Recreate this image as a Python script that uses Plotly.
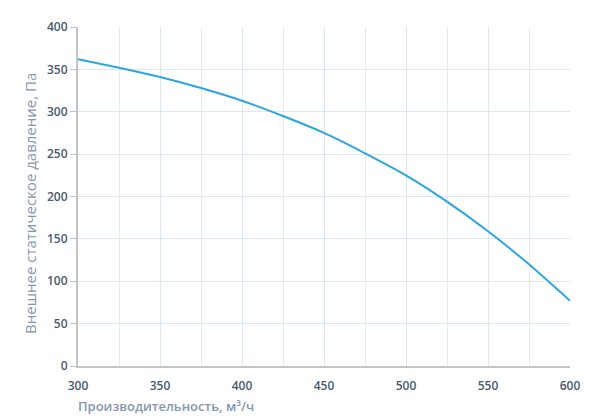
import plotly.graph_objects as go

flow = [300, 325, 350, 375, 400, 425, 450, 475, 500, 525, 550, 575, 600]
pressure = [362, 352, 341, 328, 313, 295, 275, 251, 225, 194, 159, 120, 77]

x_ticks = [300, 350, 400, 450, 500, 550, 600]
y_ticks = [0, 50, 100, 150, 200, 250, 300, 350, 400]

x_title = "Производительность, м³/ч"
y_title = "Внешнее статическое давление, Па"

tick_color = "#4b596e"
title_color = "#8696ac"
font_family = "Open Sans, sans-serif"

fig = go.Figure()
fig.add_trace(go.Scatter(
    x=flow, y=pressure, mode="lines",
    line=dict(color="#2ba6e1", width=2, shape="spline", smoothing=0.6),
    hoverinfo="x+y", showlegend=False,
))

fig.update_layout(
    width=605, height=419,
    margin=dict(l=78, r=35, t=27, b=53),
    paper_bgcolor="white", plot_bgcolor="white",
    font=dict(family=font_family, size=12, color=tick_color),
    xaxis=dict(
        range=[300, 600], tickvals=x_ticks, ticktext=[str(v) for v in x_ticks],
        showgrid=True, gridcolor="#dce7f5", gridwidth=1,
        minor=dict(dtick=25, tick0=300, showgrid=True, gridcolor="#e6e9ee", gridwidth=1),
        showline=True, linecolor="#c4c4c4", linewidth=2,
        ticks="", ticklabelstandoff=8, zeroline=False, automargin=False,
        tickfont=dict(size=12, color=tick_color, family=font_family, weight=600),
    ),
    yaxis=dict(
        range=[0, 400], tickvals=y_ticks, ticktext=[str(v) for v in y_ticks],
        showgrid=True, gridcolor="#dce7f5", gridwidth=1,
        showline=True, linecolor="#c4c4c4", linewidth=2,
        ticks="outside", ticklen=6, tickcolor="#c4c4c4", tickwidth=1,
        zeroline=False, automargin=False,
        tickfont=dict(size=12, color=tick_color, family=font_family, weight=600),
    ),
    annotations=[
        dict(text=x_title, xref="paper", yref="paper", x=0, y=0,
             xanchor="left", yanchor="middle", xshift=-2, yshift=-40,
             showarrow=False,
             font=dict(size=13, color=title_color, family=font_family, weight=600)),
        dict(text=y_title, xref="paper", yref="paper", x=0, y=0.478,
             xanchor="center", yanchor="middle", xshift=-48, textangle=-90,
             showarrow=False,
             font=dict(size=15, color=title_color, family=font_family)),
    ],
)

fig.write_html("out.html")
